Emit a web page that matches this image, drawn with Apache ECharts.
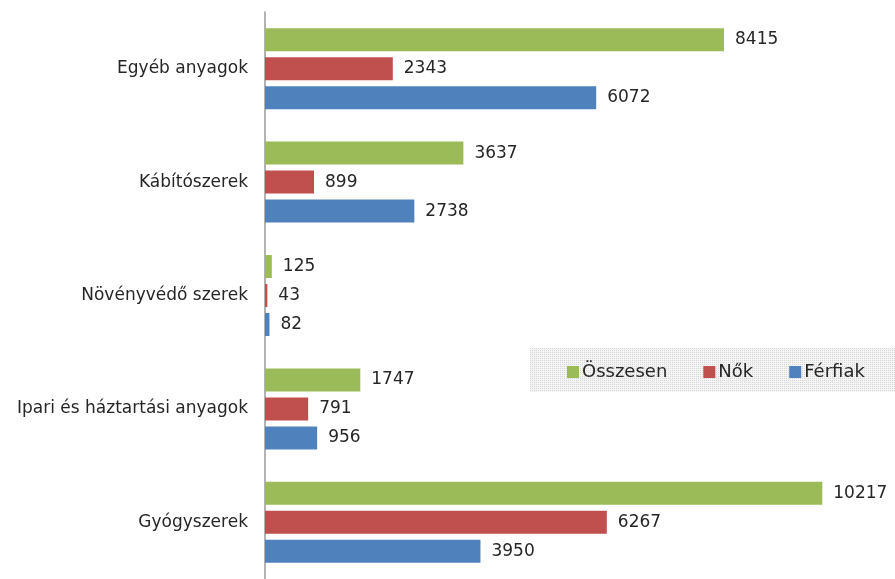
<!DOCTYPE html>
<html>
<head>
<meta charset="utf-8">
<script src="https://cdn.jsdelivr.net/npm/echarts@6/dist/echarts.min.js"></script>
<style>
html,body{margin:0;padding:0;background:#fff;}
#c{width:895px;height:579px;}
</style>
</head>
<body>
<div id="c"></div>
<script>
var categories = ['Gyógyszerek', 'Ipari és háztartási anyagok', 'Növényvédő szerek', 'Kábítószerek', 'Egyéb anyagok'];
var ferfiak = [3950, 956, 82, 2738, 6072];
var nok = [6267, 791, 43, 899, 2343];
var osszesen = [10217, 1747, 125, 3637, 8415];
var legendNames = ['Összesen', 'Nők', 'Férfiak'];

// hatched legend background pattern
var pc = document.createElement('canvas');
pc.width = 4; pc.height = 4;
var pctx = pc.getContext('2d');
pctx.fillStyle = '#f4f4f4';
pctx.fillRect(0, 0, 4, 4);
pctx.fillStyle = '#d6d6d6';
pctx.fillRect(0, 0, 1, 1);
pctx.fillRect(2, 2, 1, 1);
pctx.fillRect(2, 0, 1, 1);
pctx.fillRect(0, 2, 1, 1);

var font = '"DejaVu Sans", sans-serif';
var chart = echarts.init(document.getElementById('c'));
function lbl() {
  return { show: true, position: 'right', distance: 11, color: '#262626', fontSize: 17, fontFamily: font };
}
chart.setOption({
  animation: false,
  grid: { left: 265, right: 30, top: 12, height: 571, containLabel: false },
  xAxis: { type: 'value', min: 0, max: 11000, show: false },
  yAxis: {
    type: 'category',
    data: categories,
    axisLine: { show: true, lineStyle: { color: '#999999', width: 1.5 } },
    axisTick: { show: false },
    axisLabel: { color: '#262626', fontSize: 17, fontFamily: font, margin: 17 }
  },
  legend: {
    data: legendNames,
    left: 567, top: 363, padding: 0,
    itemWidth: 12, itemHeight: 12, itemGap: 36,
    icon: 'rect',
    textStyle: { color: '#262626', fontSize: 18, fontFamily: font, padding: [0, 0, 0, -2] }
  },
  graphic: [{
    type: 'rect', left: 530, top: 348, z: -1,
    shape: { width: 365, height: 44 },
    style: { fill: { image: pc, repeat: 'repeat' } }
  }],
  series: [
    { name: 'Összesen', type: 'bar', data: osszesen, barWidth: 23, barGap: '26%', barCategoryGap: '28%',
      itemStyle: { color: '#9BBB59' }, label: lbl() },
    { name: 'Nők', type: 'bar', data: nok, barWidth: 23, barGap: '26%',
      itemStyle: { color: '#C0504D' }, label: lbl() },
    { name: 'Férfiak', type: 'bar', data: ferfiak, barWidth: 23, barGap: '26%',
      itemStyle: { color: '#4F81BD' }, label: lbl() }
  ]
});
</script>
</body>
</html>
